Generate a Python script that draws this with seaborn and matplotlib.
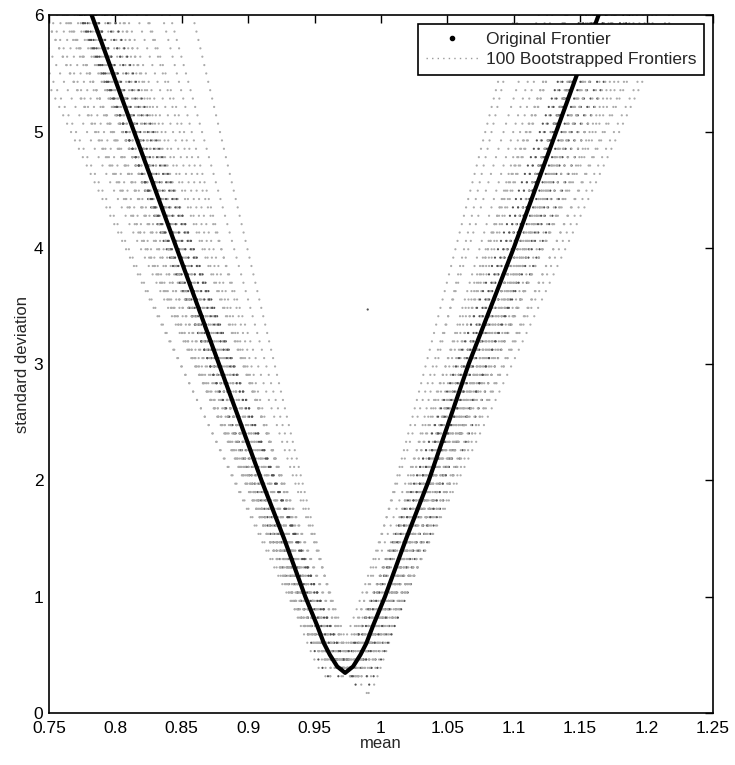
import matplotlib
matplotlib.use('Agg')
import matplotlib.pyplot as plt
from matplotlib.lines import Line2D
import pandas as pd
import numpy as np
import seaborn as sns

# original frontier (std level, left mean, right mean)
orig_std = [0.345, 0.4, 0.5, 0.6, 0.75, 1.0, 1.5, 2.0, 3.0, 4.0, 5.0, 6.1]
orig_left = [0.973, 0.967, 0.9615, 0.957, 0.952, 0.943, 0.927, 0.910, 0.878, 0.846, 0.814, 0.779]
orig_right = [0.973, 0.979, 0.9845, 0.989, 0.994, 1.003, 1.019, 1.036, 1.066, 1.100, 1.132, 1.167]

# bootstrapped frontiers: vertex mean, vertex std, slope (mean per unit std)
boot_vertex_mean = [0.981, 0.968, 0.985, 0.974, 0.962, 0.978, 0.990, 0.971, 0.966, 0.983,
                    0.975, 0.960, 0.979, 0.987, 0.970, 0.976, 0.964, 0.982, 0.973, 0.969,
                    0.984, 0.977, 0.967, 0.980, 0.972, 0.963, 0.986, 0.974, 0.978, 0.970,
                    0.965, 0.981, 0.975, 0.968, 0.983, 0.972, 0.977, 0.966, 0.979, 0.971]
boot_vertex_std = [0.30, 0.42, 0.25, 0.36, 0.48, 0.33, 0.17, 0.40, 0.28, 0.45,
                   0.35, 0.31, 0.38, 0.26, 0.44, 0.34, 0.29, 0.41, 0.37, 0.32,
                   0.27, 0.39, 0.46, 0.30, 0.35, 0.43, 0.19, 0.38, 0.33, 0.36,
                   0.47, 0.29, 0.34, 0.40, 0.31, 0.37, 0.28, 0.42, 0.35, 0.32]
boot_slope = [0.0205, 0.0222, 0.0240, 0.0252, 0.0262, 0.0270, 0.0277, 0.0283, 0.0288, 0.0292,
              0.0296, 0.0299, 0.0302, 0.0305, 0.0308, 0.0310, 0.0312, 0.0314, 0.0316, 0.0318,
              0.0320, 0.0322, 0.0324, 0.0326, 0.0329, 0.0332, 0.0335, 0.0338, 0.0341, 0.0345,
              0.0349, 0.0353, 0.0358, 0.0363, 0.0369, 0.0376, 0.0384, 0.0393, 0.0402, 0.0410]

# one stray point
stray_mean = [0.990]
stray_std = [3.47]

xticks = [0.75, 0.8, 0.85, 0.9, 0.95, 1, 1.05, 1.1, 1.15, 1.2, 1.25]
xticklabels = ['0.75', '0.8', '0.85', '0.9', '0.95', '1', '1.05', '1.1', '1.15', '1.2', '1.25']
yticks = [0, 1, 2, 3, 4, 5, 6]

sns.set_style('white')
plt.rcParams['font.family'] = ['Liberation Sans', 'DejaVu Sans']

# dots of each bootstrapped frontier, sampled on a common std grid
std_grid = np.arange(0.1, 6.2, 0.072)
rows = []
n = len(boot_slope)
for i in range(n):
    m0 = boot_vertex_mean[i]
    s0 = boot_vertex_std[i]
    k = boot_slope[i]
    s = std_grid[std_grid >= s0]
    d = k * np.sqrt(s ** 2 - s0 ** 2)
    # frontiers near the middle of the bundle print darker
    shade = 'dark' if abs(i - n // 2) < 9 and i % 2 == 0 else 'light'
    for sv, dv in zip(s, d):
        rows.append((m0 - dv, sv, shade))
        rows.append((m0 + dv, sv, shade))
for mv, sv in zip(stray_mean, stray_std):
    rows.append((mv, sv, 'dark'))
boot = pd.DataFrame(rows, columns=['mean', 'std', 'shade'])

orig = pd.DataFrame({'mean': orig_left[::-1] + orig_right[1:],
                     'std': orig_std[::-1] + orig_std[1:]})

fig = plt.figure(figsize=(7.35, 7.65), dpi=100)
ax = fig.add_axes([0.0667, 0.068, 0.9033, 0.912])

sns.scatterplot(data=boot, x='mean', y='std', hue='shade',
                palette={'dark': '#505050', 'light': '#ababab'},
                s=2.5, linewidth=0, legend=False, ax=ax)
sns.lineplot(data=orig, x='mean', y='std', sort=False, estimator=None,
             color='black', linewidth=3, ax=ax)

ax.set_xlim(0.75, 1.25)
ax.set_ylim(0, 6)
ax.set_xticks(xticks)
ax.set_xticklabels(xticklabels)
ax.set_yticks(yticks)
ax.tick_params(direction='in', length=6, width=1, top=True, right=True,
               labelsize=12.5, colors='black')
ax.tick_params(axis='x', pad=6)
ax.tick_params(axis='y', pad=4)
for sp in ax.spines.values():
    sp.set_color('black')
    sp.set_linewidth(1.2)
ax.set_xlabel('mean', fontsize=12, labelpad=0)
ax.set_ylabel('standard deviation', fontsize=12, labelpad=3)

handles = [Line2D([], [], marker='.', markersize=6, linestyle='none', color='black'),
           Line2D([], [], linestyle=(0, (1, 3)), linewidth=1, color='#9a9a9a')]
leg = ax.legend(handles, ['Original Frontier', '100 Bootstrapped Frontiers'],
                loc='upper right', bbox_to_anchor=(0.987, 0.988), fontsize=12.5,
                frameon=True, fancybox=False, framealpha=1, edgecolor='black',
                borderpad=0.45, handlelength=3, labelspacing=0.3, handletextpad=0.45,
                borderaxespad=0)
leg.get_frame().set_linewidth(1.2)

plt.savefig('out.png', dpi=100)
